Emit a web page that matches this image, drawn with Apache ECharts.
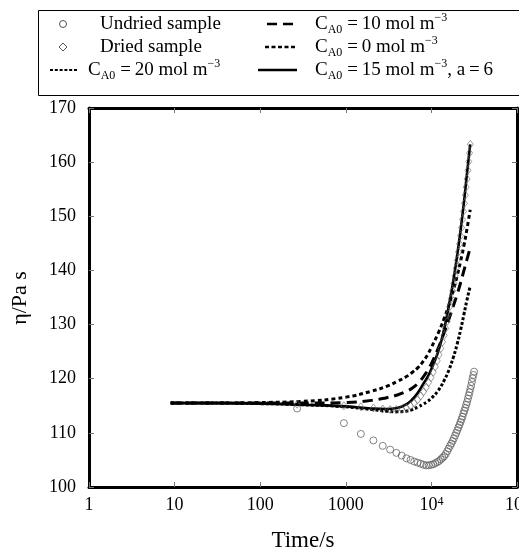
<!DOCTYPE html>
<html><head><meta charset="utf-8">
<script src="https://cdn.jsdelivr.net/npm/echarts@6/dist/echarts.min.js"></script>
<style>html,body{margin:0;padding:0;background:#fff}#c{width:519px;height:551px}</style>
</head><body><div id="c"></div>
<script>
// ---- data ----
const xTickValues = [1, 10, 100, 1000, 10000, 100000];
const xTickLabels = ['1', '10', '100', '1000', '{b|10}{s|4}', '{b|10}{s|5}'];

const modelTimes = [9, 30, 100, 300, 1000, 2000, 3000, 4000, 5000, 6000, 7000, 8000, 9000, 10000, 12000, 14000, 16000, 18000, 20000, 22000, 24000, 26000, 28400];
const etaC0   = [115.5, 115.5, 115.6, 115.8, 116.6, 117.7, 118.6, 119.5, 120.3, 121.2, 122.1, 123.2, 124.4, 125.8, 128.4, 131.0, 133.6, 136.3, 139.0, 141.8, 144.6, 147.6, 151.2];
const etaC10  = [115.5, 115.5, 115.5, 115.5, 115.6, 116.0, 116.5, 117.0, 117.6, 118.3, 119.2, 120.3, 121.5, 122.8, 125.6, 128.4, 131.0, 133.4, 135.6, 137.8, 140.0, 142.0, 144.2];
const etaC20  = [115.5, 115.5, 115.4, 115.2, 114.8, 114.3, 114.0, 113.9, 114.0, 114.3, 114.8, 115.3, 115.8, 116.4, 117.8, 119.6, 121.6, 123.9, 126.4, 129.1, 131.9, 134.5, 137.1];
const etaC15a6 = [115.5, 115.5, 115.4, 115.2, 114.9, 114.5, 114.4, 114.6, 115.2, 116.2, 117.5, 119.0, 120.3, 121.8, 125.0, 129.0, 133.5, 138.0, 142.8, 147.6, 152.6, 157.8, 163.3];

const undriedTimes = [270, 950, 1500, 2100, 2700, 3300, 3900, 4500, 5100, 5700, 6300, 6900, 7500, 8100, 8700, 9300, 9900, 10500, 11100, 11700, 12300, 12900, 13500, 14100, 14700, 15300, 15900, 16500, 17100, 17700, 18300, 18900, 19500, 20100, 20700, 21300, 21900, 22500, 23100, 23700, 24300, 24900, 25500, 26100, 26700, 27300, 27900, 28500, 29100, 29700, 30300, 30900, 31500];
const undriedEta = [114.5, 111.8, 109.8, 108.6, 107.6, 106.9, 106.3, 105.8, 105.3, 105.0, 104.7, 104.5, 104.3, 104.1, 104.0, 104.0, 104.1, 104.2, 104.4, 104.6, 104.8, 105.1, 105.4, 105.7, 106.1, 106.6, 107.1, 107.6, 108.0, 108.5, 109.0, 109.5, 110.0, 110.5, 111.0, 111.5, 112.0, 112.5, 113.0, 113.6, 114.1, 114.6, 115.2, 115.7, 116.3, 116.9, 117.5, 118.1, 118.7, 119.4, 120.1, 120.7, 121.3];

const driedTimes = [270, 950, 1500, 2100, 2700, 3300, 3900, 4500, 5100, 5700, 6300, 6900, 7500, 8100, 8700, 9300, 9900, 10500, 11100, 11700, 12300, 12900, 13500, 14100, 14700, 15300, 15900, 16500, 17100, 17700, 18300, 18900, 19500, 20100, 20700, 21300, 21900, 22500, 23100, 23700, 24300, 24900, 25500, 26100, 26700, 27300, 27900, 28500];
const driedEta = [115.3, 115.0, 114.8, 114.6, 114.4, 114.3, 114.3, 114.4, 114.6, 115.0, 115.5, 116.1, 116.8, 117.6, 118.4, 119.3, 120.2, 121.2, 122.2, 123.3, 124.4, 125.6, 126.8, 128.0, 129.3, 130.6, 132.0, 133.4, 134.8, 136.2, 137.6, 139.0, 140.4, 141.9, 143.4, 144.9, 146.4, 147.9, 149.4, 150.9, 152.4, 153.9, 155.4, 156.9, 158.5, 160.1, 161.7, 163.3];

// ---- build ----
const zip = (xs, ys) => xs.map((x, i) => [x, ys[i]]);
const FONT = '"Liberation Serif", "DejaVu Serif", serif';

const chart = echarts.init(document.getElementById('c'), null, {renderer: 'canvas'});

const axisLine = {show: true, onZero: false, lineStyle: {color: '#000', width: 3}};
const axisTick = {show: true, inside: true, length: 5, lineStyle: {color: '#777', width: 1}};

function xLabel(v) {
  const i = Math.round(Math.log10(v));
  return xTickLabels[i] !== undefined ? xTickLabels[i] : '';
}

const lineSeries = (name, data, dash, width) => ({
  name, type: 'line', data, smooth: true, symbol: 'none', z: 3,
  lineStyle: {color: '#000', width: width, type: dash}
});

const TS = '\u2009';
function subText(rest, sup, tail) {
  return '{n|C}{sub|A0}{n|' + TS + '=' + TS + rest + '}{sup|' + sup + '}' + (tail ? '{n|' + tail + '}' : '');
}
const legendRich = {
  n: {fontFamily: FONT, fontSize: 19, color: '#000', lineHeight: 24, verticalAlign: 'middle'},
  sub: {fontFamily: FONT, fontSize: 12, color: '#000', lineHeight: 24, verticalAlign: 'bottom', padding: [0, 1, 0, 0]},
  sup: {fontFamily: FONT, fontSize: 12, color: '#000', lineHeight: 24, verticalAlign: 'top'}
};

const row1 = 24, row2 = 47, row3 = 70;
const graphics = [
  {type: 'rect', shape: {x: 38.5, y: 10.5, width: 520, height: 85}, style: {fill: '#fff', stroke: '#000', lineWidth: 1}, z: 10},
  {type: 'circle', shape: {cx: 63, cy: row1, r: 3.5}, style: {fill: 'none', stroke: '#555', lineWidth: 1}, z: 11},
  {type: 'text', x: 100, y: row1, style: {text: 'Undried sample', font: '19px ' + FONT, fill: '#000', textVerticalAlign: 'middle'}, z: 11},
  {type: 'polygon', shape: {points: [[63, row2 - 4], [67, row2], [63, row2 + 4], [59, row2]]}, style: {fill: 'none', stroke: '#555', lineWidth: 1}, z: 11},
  {type: 'text', x: 100, y: row2, style: {text: 'Dried sample', font: '19px ' + FONT, fill: '#000', textVerticalAlign: 'middle'}, z: 11},
  {type: 'line', shape: {x1: 50, y1: row3, x2: 78, y2: row3}, style: {stroke: '#000', lineWidth: 2, lineDash: [3, 1.8]}, z: 11},
  {type: 'text', x: 88, y: row3, style: {text: subText('20 mol m', '−3'), rich: legendRich, textVerticalAlign: 'middle'}, z: 11},
  {type: 'line', shape: {x1: 267, y1: row1, x2: 293, y2: row1}, style: {stroke: '#000', lineWidth: 2.5, lineDash: [10, 6]}, z: 11},
  {type: 'text', x: 315, y: row1, style: {text: subText('10 mol m', '−3'), rich: legendRich, textVerticalAlign: 'middle'}, z: 11},
  {type: 'line', shape: {x1: 265, y1: row2, x2: 295, y2: row2}, style: {stroke: '#000', lineWidth: 2.5, lineDash: [4, 2.5]}, z: 11},
  {type: 'text', x: 315, y: row2, style: {text: subText('0 mol m', '−3'), rich: legendRich, textVerticalAlign: 'middle'}, z: 11},
  {type: 'line', shape: {x1: 258, y1: row3, x2: 297, y2: row3}, style: {stroke: '#000', lineWidth: 2.5}, z: 11},
  {type: 'text', x: 315, y: row3, style: {text: subText('15 mol m', '−3', ', a' + TS + '=' + TS + '6'), rich: legendRich, textVerticalAlign: 'middle'}, z: 11},
  {type: 'text', x: 20, y: 298, rotation: Math.PI / 2, style: {text: 'η/Pa s', font: '22px ' + FONT, fill: '#000', textAlign: 'center', textVerticalAlign: 'middle'}, z: 11},
  {type: 'text', x: 303, y: 541, style: {text: 'Time/s', font: '23px ' + FONT, fill: '#000', textAlign: 'center', textVerticalAlign: 'middle'}, z: 11}
];

chart.setOption({
  animation: false,
  backgroundColor: '#fff',
  grid: {left: 89, right: 2, top: 108, bottom: 64, outerBoundsMode: 'none', containLabel: false},
  xAxis: [
    {type: 'log', logBase: 10, min: 1, max: 100000, position: 'bottom',
     axisLine, axisTick, splitLine: {show: false}, minorTick: {show: false},
     axisLabel: {margin: 9, fontFamily: FONT, fontSize: 18, color: '#000', formatter: xLabel, showMaxLabel: true, alignMaxLabel: 'center',
       rich: {b: {fontFamily: FONT, fontSize: 18, color: '#000'}, s: {fontFamily: FONT, fontSize: 12, color: '#000', verticalAlign: 'top', lineHeight: 18}}}},
    {type: 'log', logBase: 10, min: 1, max: 100000, position: 'top',
     axisLine, axisTick, splitLine: {show: false}, axisLabel: {show: false}}
  ],
  yAxis: [
    {type: 'value', min: 100, max: 170, interval: 10, position: 'left',
     axisLine, axisTick, splitLine: {show: false},
     axisLabel: {margin: 13, fontFamily: FONT, fontSize: 18, color: '#000'}},
    {type: 'value', min: 100, max: 170, interval: 10, position: 'right',
     axisLine, axisTick, splitLine: {show: false}, axisLabel: {show: false}}
  ],
  series: [
    {name: 'Undried sample', type: 'scatter', data: zip(undriedTimes, undriedEta), symbol: 'circle', symbolSize: 7, z: 2,
     itemStyle: {color: 'rgba(0,0,0,0)', borderColor: '#555', borderWidth: 0.9}},
    {name: 'Dried sample', type: 'scatter', data: zip(driedTimes, driedEta), symbol: 'diamond', symbolSize: [6, 8], z: 4,
     itemStyle: {color: 'rgba(0,0,0,0)', borderColor: '#666', borderWidth: 0.8}},
    lineSeries('C20', zip(modelTimes, etaC20), [3, 2], 3),
    lineSeries('C0', zip(modelTimes, etaC0), [4, 3], 3),
    lineSeries('C10', zip(modelTimes, etaC10), [10, 6], 3),
    lineSeries('C15a6', zip(modelTimes, etaC15a6), 'solid', 2.6)
  ],
  graphic: graphics
});
</script></body></html>
